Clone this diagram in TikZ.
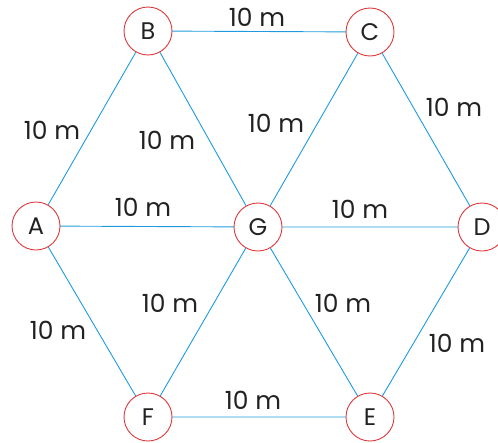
\documentclass[tikz,border=0pt]{standalone}
\usepackage{fontspec}
\setmainfont{Poppins}
\definecolor{nodered}{HTML}{E0393E}
\definecolor{edgeblue}{HTML}{1E9BE0}
\definecolor{txt}{HTML}{222222}
\begin{document}
\begin{tikzpicture}[x=1pt,y=-1pt,
  vert/.style={circle,draw=nodered,line width=0.9pt,fill=white,minimum size=48pt,inner sep=0pt,font=\fontsize{24}{24}\selectfont,text=txt},
  edge/.style={draw=edgeblue,line width=0.9pt},
  lab/.style={font=\fontsize{25}{25}\selectfont,text=txt,inner sep=0pt}]
\useasboundingbox (0,0) rectangle (498,442);
\coordinate (pA) at (36,226);
\coordinate (pB) at (148,31);
\coordinate (pC) at (370,32);
\coordinate (pD) at (482,227);
\coordinate (pE) at (370,417);
\coordinate (pF) at (148,417);
\coordinate (pG) at (258,227);
\draw[edge] (pA) -- (pB) -- (pC) -- (pD) -- (pE) -- (pF) -- (pA);
\draw[edge] (pA) -- (pG) -- (pD);
\draw[edge] (pB) -- (pG) -- (pE);
\draw[edge] (pC) -- (pG) -- (pF);
\node[vert] (A) at (pA) {A};
\node[vert] (B) at (pB) {B};
\node[vert] (C) at (pC) {C};
\node[vert] (D) at (pD) {D};
\node[vert] (E) at (pE) {E};
\node[vert] (F) at (pF) {F};
\node[vert] (G) at (pG) {G};
\node[lab] (lBC) at (257,17) {10 m};
\node[lab] (lAB) at (52,130) {10 m};
\node[lab] (lBG) at (167,140) {10 m};
\node[lab] (lCG) at (276,123) {10 m};
\node[lab] (lCD) at (454,107) {10 m};
\node[lab] (lAG) at (143,207) {10 m};
\node[lab] (lGD) at (360,209) {10 m};
\node[lab] (lFG) at (170,303) {10 m};
\node[lab] (lGE) at (343,303) {10 m};
\node[lab] (lAF) at (58,330) {10 m};
\node[lab] (lDE) at (457,343) {10 m};
\node[lab] (lFE) at (253,400) {10 m};
\end{tikzpicture}
\end{document}
